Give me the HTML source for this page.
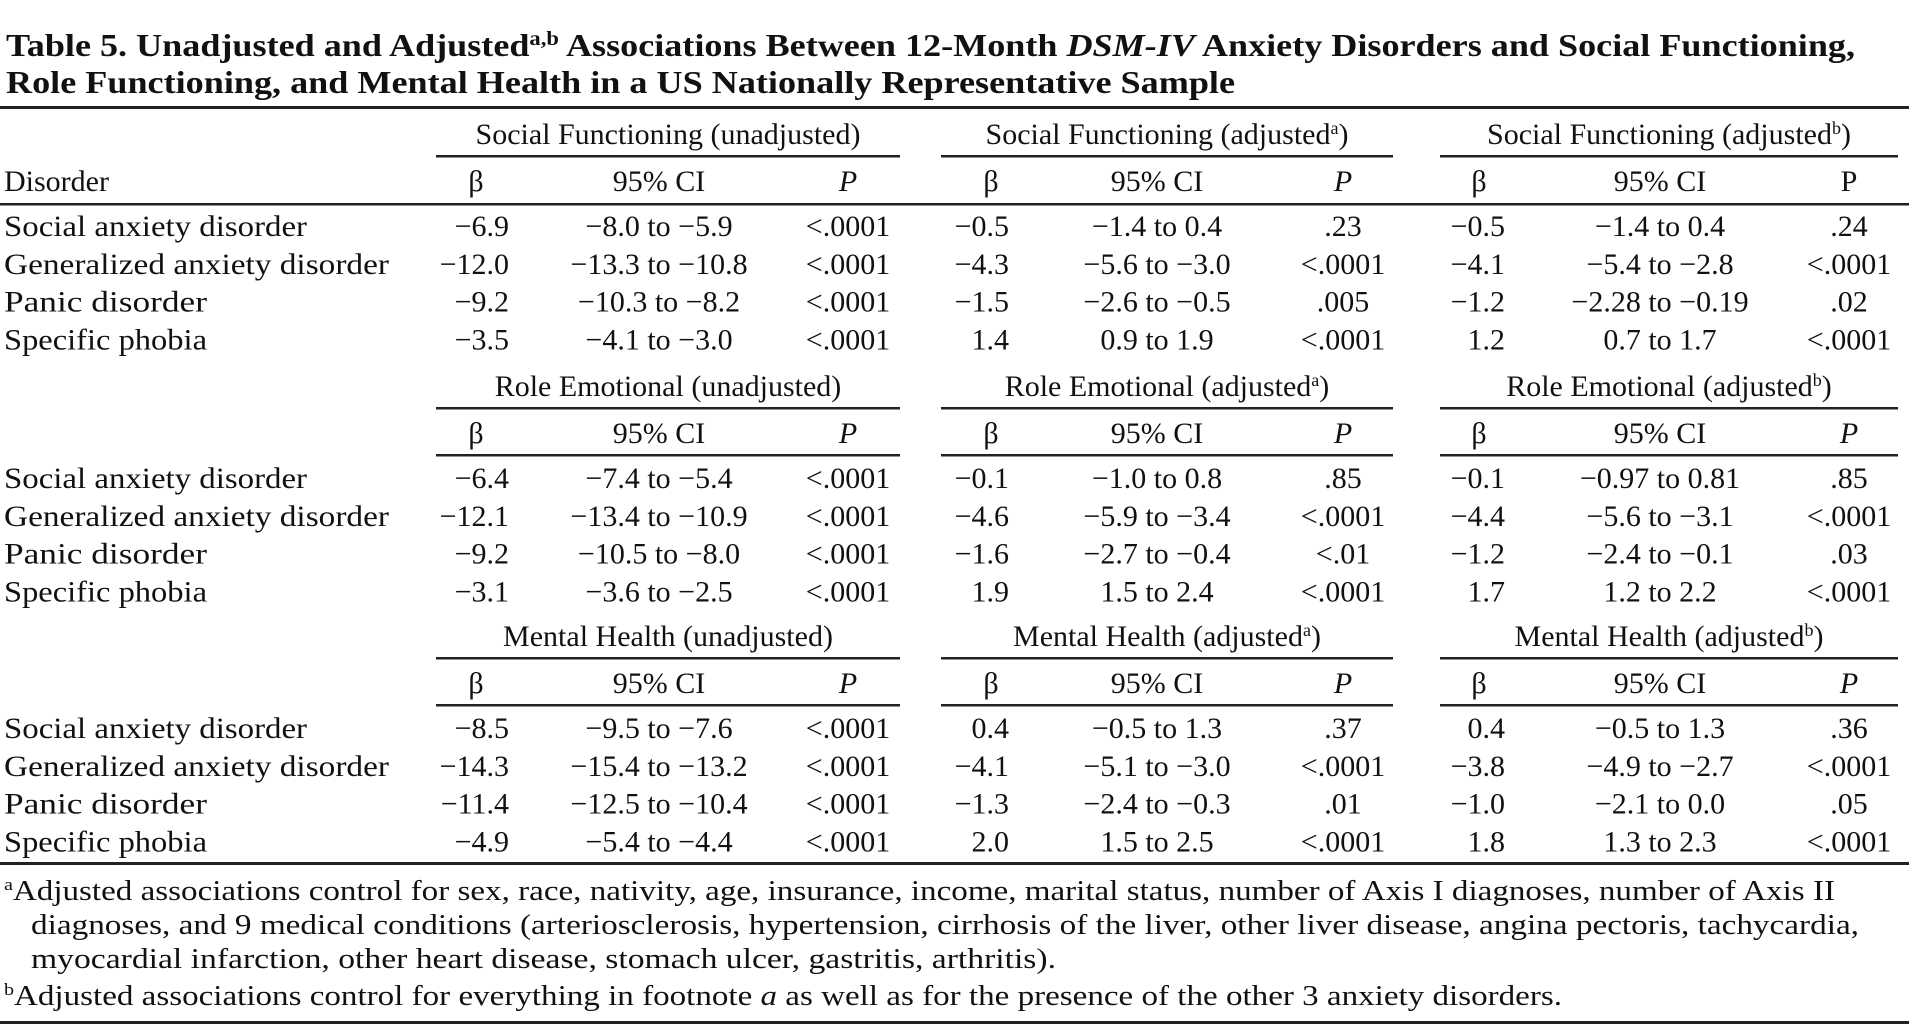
<!DOCTYPE html>
<html><head><meta charset="utf-8"><style>
html,body{margin:0;padding:0;background:#fff;}
svg{display:block;}
text{font-family:"Liberation Serif",serif;fill:#111;}
</style></head><body>
<svg id="t" width="1909" height="1028" viewBox="0 0 1909 1028">
<text x="6" y="56" font-size="32" font-weight="bold" textLength="1849" lengthAdjust="spacingAndGlyphs">Table 5. Unadjusted and Adjusted<tspan font-size="20" dy="-11">a,b</tspan><tspan dy="11"> Associations Between 12-Month </tspan><tspan font-style="italic">DSM-IV</tspan> Anxiety Disorders and Social Functioning,</text>
<text x="6" y="93" font-size="32" font-weight="bold" textLength="1229" lengthAdjust="spacingAndGlyphs">Role Functioning, and Mental Health in a US Nationally Representative Sample</text>
<rect x="0" y="106" width="1909" height="3" fill="#222"/>
<rect x="0" y="862" width="1909" height="3" fill="#222"/>
<rect x="0" y="1021" width="1909" height="3" fill="#222"/>
<text x="4" y="191" font-size="30">Disorder</text>
<text x="4" y="900" font-size="28" textLength="1831" lengthAdjust="spacingAndGlyphs"><tspan font-size="17" dy="-10">a</tspan><tspan dy="10">Adjusted associations control for sex, race, nativity, age, insurance, income, marital status, number of Axis I diagnoses, number of Axis II</tspan></text>
<text x="31" y="934" font-size="28" textLength="1828" lengthAdjust="spacingAndGlyphs">diagnoses, and 9 medical conditions (arteriosclerosis, hypertension, cirrhosis of the liver, other liver disease, angina pectoris, tachycardia,</text>
<text x="31" y="968" font-size="28" textLength="1025" lengthAdjust="spacingAndGlyphs">myocardial infarction, other heart disease, stomach ulcer, gastritis, arthritis).</text>
<text x="4" y="1005" font-size="28" textLength="1558" lengthAdjust="spacingAndGlyphs"><tspan font-size="17" dy="-10">b</tspan><tspan dy="10">Adjusted associations control for everything in footnote </tspan><tspan font-style="italic">a</tspan> as well as for the presence of the other 3 anxiety disorders.</text>
</svg>
<script>
const disorders=["Social anxiety disorder","Generalized anxiety disorder","Panic disorder","Specific phobia"];
const labelWidths=[303,385,203,203];
const outcomes=["Social Functioning","Role Emotional","Mental Health"];
const models=["unadjusted","adjusted","adjusted"];
const modelSup=["","a","b"];
const betas=[
 [["−6.9","−12.0","−9.2","−3.5"],["−0.5","−4.3","−1.5","1.4"],["−0.5","−4.1","−1.2","1.2"]],
 [["−6.4","−12.1","−9.2","−3.1"],["−0.1","−4.6","−1.6","1.9"],["−0.1","−4.4","−1.2","1.7"]],
 [["−8.5","−14.3","−11.4","−4.9"],["0.4","−4.1","−1.3","2.0"],["0.4","−3.8","−1.0","1.8"]]];
const cis=[
 [["−8.0 to −5.9","−13.3 to −10.8","−10.3 to −8.2","−4.1 to −3.0"],["−1.4 to 0.4","−5.6 to −3.0","−2.6 to −0.5","0.9 to 1.9"],["−1.4 to 0.4","−5.4 to −2.8","−2.28 to −0.19","0.7 to 1.7"]],
 [["−7.4 to −5.4","−13.4 to −10.9","−10.5 to −8.0","−3.6 to −2.5"],["−1.0 to 0.8","−5.9 to −3.4","−2.7 to −0.4","1.5 to 2.4"],["−0.97 to 0.81","−5.6 to −3.1","−2.4 to −0.1","1.2 to 2.2"]],
 [["−9.5 to −7.6","−15.4 to −13.2","−12.5 to −10.4","−5.4 to −4.4"],["−0.5 to 1.3","−5.1 to −3.0","−2.4 to −0.3","1.5 to 2.5"],["−0.5 to 1.3","−4.9 to −2.7","−2.1 to 0.0","1.3 to 2.3"]]];
const pvals=[
 [["<.0001","<.0001","<.0001","<.0001"],[".23","<.0001",".005","<.0001"],[".24","<.0001",".02","<.0001"]],
 [["<.0001","<.0001","<.0001","<.0001"],[".85","<.0001","<.01","<.0001"],[".85","<.0001",".03","<.0001"]],
 [["<.0001","<.0001","<.0001","<.0001"],[".37","<.0001",".01","<.0001"],[".36","<.0001",".05","<.0001"]]];

const svg=document.getElementById('t');
const NS="http://www.w3.org/2000/svg";
const gx=[[436,900],[941,1393],[1440,1898]];
const betaRight=[509,1009,1505], betaHead=[476,991,1479], ciX=[659,1157,1660], pX=[848,1343,1849];
const blockTop=[134,386,636];
function txt(x,y,s,anchor,name){
 const t=document.createElementNS(NS,'text');
 t.setAttribute('x',x);t.setAttribute('y',y);t.setAttribute('font-size','30');
 if(anchor)t.setAttribute('text-anchor',anchor);
 t.textContent=s;
 
 
 svg.appendChild(t);return t;
}
function rule(x,y,w,name){
 const r=document.createElementNS(NS,'rect');
 r.setAttribute('x',x);r.setAttribute('y',y);r.setAttribute('width',w);r.setAttribute('height',2.5);r.setAttribute('fill','#222');
 
 
 svg.appendChild(r);
}
outcomes.forEach((o,b)=>{
 const top=blockTop[b];
 const headY=top+10, colY=top+57, ulY=top+21;
 models.forEach((m,k)=>{
  const cx=(gx[k][0]+gx[k][1])/2;
  const t=txt(cx,headY,o+" ("+m,'middle','group-header');
  if(modelSup[k]){const s=document.createElementNS(NS,'tspan');s.setAttribute('font-size','18');s.setAttribute('dy','-10');s.textContent=modelSup[k];t.appendChild(s);
   const c=document.createElementNS(NS,'tspan');c.setAttribute('dy','10');c.textContent=")";t.appendChild(c);}
  else t.textContent+=")";
  rule(gx[k][0],ulY,gx[k][1]-gx[k][0],'group-underline');
  txt(betaHead[k],colY,"β",'middle','beta-header');
  txt(ciX[k],colY,"95% CI",'middle','ci-header');
  const p=txt(pX[k],colY,"P",'middle','p-header');
  if(!(b===0&&k===2)) p.setAttribute('font-style','italic');
  if(b>0) rule(gx[k][0],top+68,gx[k][1]-gx[k][0],'column-header-underline');
 });
 if(b===0) rule(0,top+69,1909,'header-rule');
 disorders.forEach((d,i)=>{
  const y=top+92+i*37.8+10;
  const l=txt(4,y,d,null,'disorder-label');
  l.setAttribute('textLength',labelWidths[i]);l.setAttribute('lengthAdjust','spacingAndGlyphs');
  for(let k=0;k<3;k++){
   txt(betaRight[k],y,betas[b][k][i],'end','beta-value');
   txt(ciX[k],y,cis[b][k][i],'middle','ci-value');
   txt(pX[k],y,pvals[b][k][i],'middle','p-value');
  }
 });
});
</script>
</body></html>
